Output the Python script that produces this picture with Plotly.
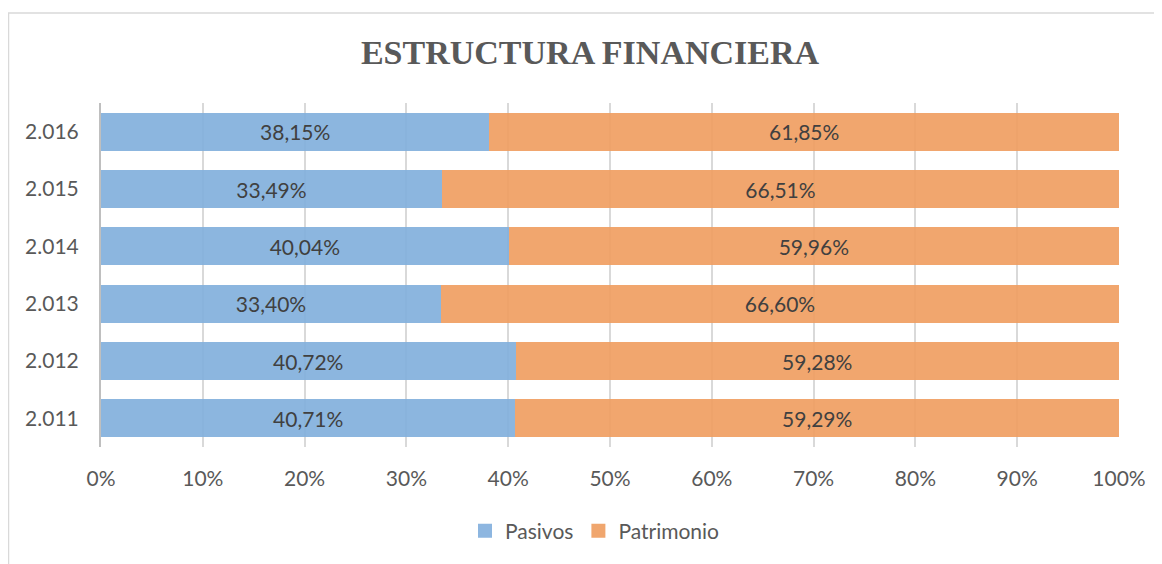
import plotly.graph_objects as go

years = ["2.011", "2.012", "2.013", "2.014", "2.015", "2.016"]
pasivos = [40.71, 40.72, 33.40, 40.04, 33.49, 38.15]
patrimonio = [59.29, 59.28, 66.60, 59.96, 66.51, 61.85]
x_ticks = [0, 10, 20, 30, 40, 50, 60, 70, 80, 90, 100]
x_ticklabels = [f"{v}%" for v in x_ticks]
series_names = ["Pasivos", "Patrimonio"]
series_colors = ["rgb(128,174,220)", "rgb(239,156,94)"]
legend_colors = ["rgb(141,182,224)", "rgb(240,166,110)"]

def fmt(v):
    return f"{v:.2f}".replace(".", ",") + "%"

FONT = "Lato"
fig = go.Figure()
for name, vals, col in zip(series_names, [pasivos, patrimonio], series_colors):
    fig.add_trace(go.Bar(
        y=years, x=vals, name=name, orientation="h",
        marker=dict(color=col, opacity=0.9, line=dict(width=0)),
        text=[fmt(v) for v in vals], textposition="inside",
        insidetextanchor="middle", textangle=0,
        textfont=dict(family=FONT, size=21, color="#404040"),
        hoverinfo="skip", showlegend=False,
    ))
for name, col in zip(series_names, legend_colors):
    fig.add_trace(go.Scatter(
        x=[None], y=[None], mode="markers", name=name,
        marker=dict(symbol="square", size=14, color=col),
        showlegend=True, hoverinfo="skip",
    ))

OFF = 8  # page body margin
W, H = 1162 - OFF, 564 - OFF
L, R, T, B = 101 - OFF, 1162 - 1119 - OFF + OFF, 103 - OFF, 117
pw, ph = W - L - R, H - T - B

def px_x(p):
    return (p - OFF - L) / pw

def px_y(p):
    return (H - B - (p - OFF)) / ph

fig.update_layout(
    width=W, height=H,
    barmode="stack", bargap=0.34,
    margin=dict(l=L, r=R, t=T, b=B),
    paper_bgcolor="white", plot_bgcolor="white",
    font=dict(family=FONT, size=21, color="#595959"),
    title=dict(text="<b>ESTRUCTURA FINANCIERA</b>", x=(590 - OFF) / W, xanchor="center",
               y=1 - (52 - OFF) / H, yanchor="middle",
               font=dict(family="Liberation Serif", size=34, color="#595959")),
    xaxis=dict(range=[0, 100], tickvals=x_ticks, ticktext=x_ticklabels,
               showgrid=True, gridcolor="#D9D9D9", gridwidth=1.5,
               zeroline=False, showline=False, ticks="",
               ticklabelstandoff=17, fixedrange=True,
               tickfont=dict(family=FONT, size=21, color="#595959")),
    yaxis=dict(type="category", showgrid=False, zeroline=False,
               showline=True, linecolor="#BFBFBF", linewidth=2,
               ticks="", ticklabelstandoff=16, fixedrange=True,
               tickfont=dict(family=FONT, size=21, color="#595959")),
    legend=dict(orientation="h", x=px_x(595), xanchor="center",
                y=px_y(531), yanchor="middle", yref="paper",
                font=dict(family=FONT, size=21, color="#595959"),
                itemwidth=30, traceorder="normal"),
    showlegend=True,
    shapes=[dict(type="rect", xref="paper", yref="paper",
                 x0=px_x(8.5), x1=px_x(1175), y0=px_y(580), y1=px_y(13),
                 line=dict(color="#D9D9D9", width=1.5), fillcolor="rgba(0,0,0,0)",
                 layer="below")],
)

fig.write_html("out.html")
